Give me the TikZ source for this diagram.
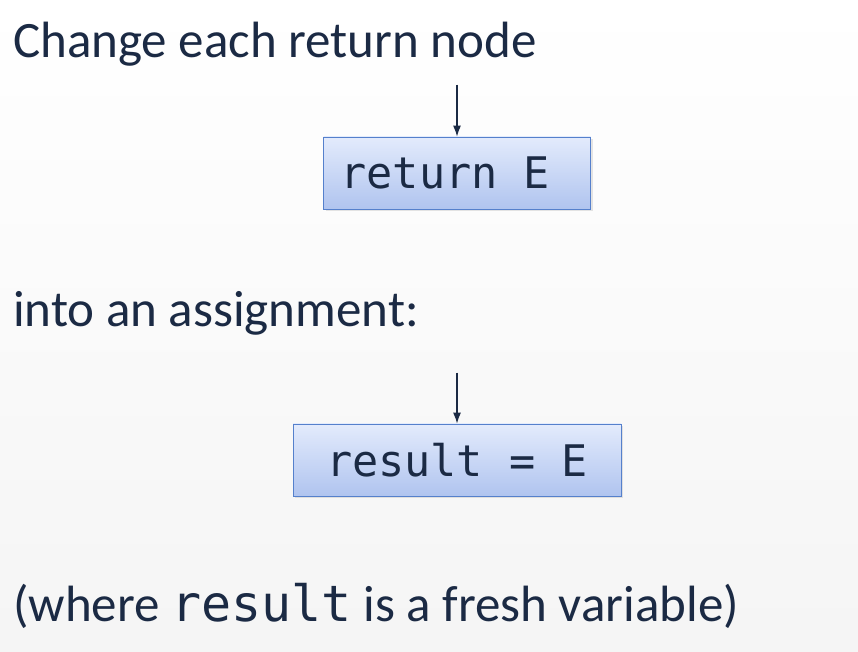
\documentclass[tikz,border=0pt]{standalone}
\usepackage{fontspec}
\setmainfont{Carlito}
\setmonofont{DejaVu Sans Mono}
\usetikzlibrary{positioning, shadows, arrows.meta}

\definecolor{ink}{HTML}{1B2A44}
\definecolor{boxtop}{HTML}{E3EBFC}
\definecolor{boxbot}{HTML}{B0C4EF}
\definecolor{boxline}{HTML}{5580CC}

\begin{document}
\begin{tikzpicture}[x=1pt, y=1pt, >={Latex[length=11pt, width=8pt]},
  font=\fontsize{51}{51}\selectfont, text=ink,
  stmt/.style={draw=boxline, thick, top color=boxtop, bottom color=boxbot,
    minimum height=72pt, inner sep=0pt, font=\fontsize{43.5}{43.5}\ttfamily,
    drop shadow={opacity=0.2, shadow xshift=2pt, shadow yshift=-2pt}},
  line/.style={anchor=base west, inner sep=0pt}]
  % background
  \shade[top color=white, bottom color=black!4] (0,0) rectangle (858,652);

  \node[line] (head) at (13,594) {Change each return node};

  \node[stmt, minimum width=267pt] (ret) at (457,479) {\makebox[233pt][l]{return E}};
  \coordinate[above=52pt of ret.north] (ret-in);
  \draw[->, ink, line width=1.2pt] (ret-in) -- (ret);

  \node[line] (mid) at (13,325) {into an assignment:};

  \node[stmt, minimum width=328pt] (assign) at (457,192) {result = E};
  \coordinate[above=51pt of assign.north] (assign-in);
  \draw[->, ink, line width=1.2pt] (assign-in) -- (assign);

  \node[line] (note) at (13,30) {(where {\fontsize{50}{50}\ttfamily result} is a fresh variable)};
\end{tikzpicture}
\end{document}
